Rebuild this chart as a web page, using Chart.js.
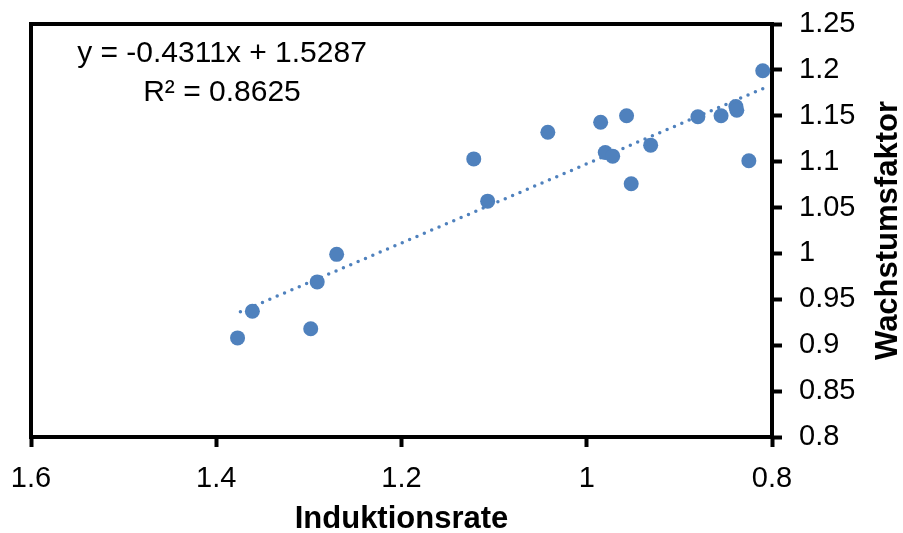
<!DOCTYPE html>
<html>
<head>
<meta charset="utf-8">
<script src="https://cdn.jsdelivr.net/npm/chart.js@4"></script>
<style>
  body { margin: 0; background: #fff; }
</style>
</head>
<body>
<canvas id="chart" width="903" height="533"></canvas>
<script>
// Induktionsrate (x) vs. Wachstumsfaktor (y)
const induktion = [1.377, 1.361, 1.298, 1.291, 1.270, 1.122, 1.107, 1.042, 0.985, 0.957,
                   0.980, 0.972, 0.952, 0.931, 0.880, 0.855, 0.839, 0.838, 0.825, 0.810];
const wachstum  = [0.908, 0.937, 0.918, 0.969, 0.999, 1.103, 1.057, 1.132, 1.143, 1.150,
                   1.110, 1.106, 1.076, 1.118, 1.149, 1.150, 1.160, 1.156, 1.101, 1.199];

// linear trendline as printed on the chart
const slope = -0.4311;
const intercept = 1.5287;
const eqLines = ['y = -0.4311x + 1.5287', 'R² = 0.8625'];

const xTitle = 'Induktionsrate';
const yTitle = 'Wachstumsfaktor';

const blue = '#4F81BD';
const fontFamily = '"Liberation Sans", Arial, sans-serif';

const xMin = Math.min(...induktion);
const xMax = Math.max(...induktion);
const trend = [xMin, xMax].map(x => ({ x: x, y: slope * x + intercept }));

const points = induktion.map((x, i) => ({ x: x, y: wachstum[i] }));

function fmt(v) {
    return String(+Number(v).toFixed(2));
}

//Frame, equation and rotated y title
const extras = {
    id: 'extras',
    beforeDatasetsDraw(chart) {
        const { ctx, chartArea: a } = chart;
        ctx.save();
        ctx.strokeStyle = '#000';
        ctx.lineWidth = 4;
        ctx.strokeRect(a.left, a.top, a.right - a.left, a.bottom - a.top);
        ctx.restore();
    },
    afterDraw(chart) {
        const { ctx, chartArea: a } = chart;
        ctx.save();
        ctx.fillStyle = '#000';
        ctx.textAlign = 'center';
        ctx.textBaseline = 'middle';
        ctx.font = '30px ' + fontFamily;
        ctx.fillText(eqLines[0], a.left + 191, a.top + 30);
        ctx.fillText(eqLines[1], a.left + 191, a.top + 69);

        ctx.font = 'bold 31px ' + fontFamily;
        ctx.translate(a.right + 116, (a.top + a.bottom) / 2);
        ctx.rotate(-Math.PI / 2);
        ctx.fillText(yTitle, 0, 0);
        ctx.restore();
    }
};

new Chart(document.getElementById('chart').getContext('2d'), {
    type: 'scatter',
    data: {
        datasets: [{
            label: 'Daten',
            data: points,
            backgroundColor: blue,
            borderWidth: 0,
            pointRadius: 7.5,
            order: 1
        }, {
            type: 'line',
            label: 'Trend',
            data: trend,
            borderColor: blue,
            borderWidth: 3.5,
            borderDash: [0, 8],
            borderCapStyle: 'round',
            pointRadius: 0,
            fill: false,
            order: 2
        }]
    },
    options: {
        responsive: false,
        animation: false,
        layout: { padding: { left: 31, top: 24, right: 0, bottom: 0 } },
        plugins: {
            legend: { display: false },
            tooltip: { enabled: false }
        },
        scales: {
            x: {
                type: 'linear',
                position: 'bottom',
                reverse: true,
                min: 0.8,
                max: 1.6,
                afterFit(scale) {
                    scale.height = 96;
                    scale.paddingLeft = 0;
                    scale.paddingRight = 0;
                },
                border: { display: false },
                grid: {
                    drawOnChartArea: false,
                    drawTicks: true,
                    tickLength: 10,
                    tickWidth: 4,
                    tickColor: '#000'
                },
                ticks: {
                    stepSize: 0.2,
                    color: '#000',
                    padding: 15,
                    font: { family: fontFamily, size: 29 },
                    callback: fmt
                },
                title: {
                    display: true,
                    text: xTitle,
                    color: '#000',
                    padding: { top: 0, bottom: 0 },
                    font: { family: fontFamily, size: 31, weight: 'bold', lineHeight: 0.85 }
                }
            },
            y: {
                type: 'linear',
                position: 'right',
                min: 0.8,
                max: 1.25,
                afterFit(scale) {
                    scale.width = 131;
                    scale.paddingTop = 0;
                    scale.paddingBottom = 0;
                },
                border: { display: false },
                grid: {
                    drawOnChartArea: false,
                    drawTicks: true,
                    tickLength: 10,
                    tickWidth: 4,
                    tickColor: '#000'
                },
                ticks: {
                    stepSize: 0.05,
                    color: '#000',
                    padding: 17,
                    font: { family: fontFamily, size: 29 },
                    callback: fmt
                }
            }
        }
    },
    plugins: [extras]
});
</script>
</body>
</html>
